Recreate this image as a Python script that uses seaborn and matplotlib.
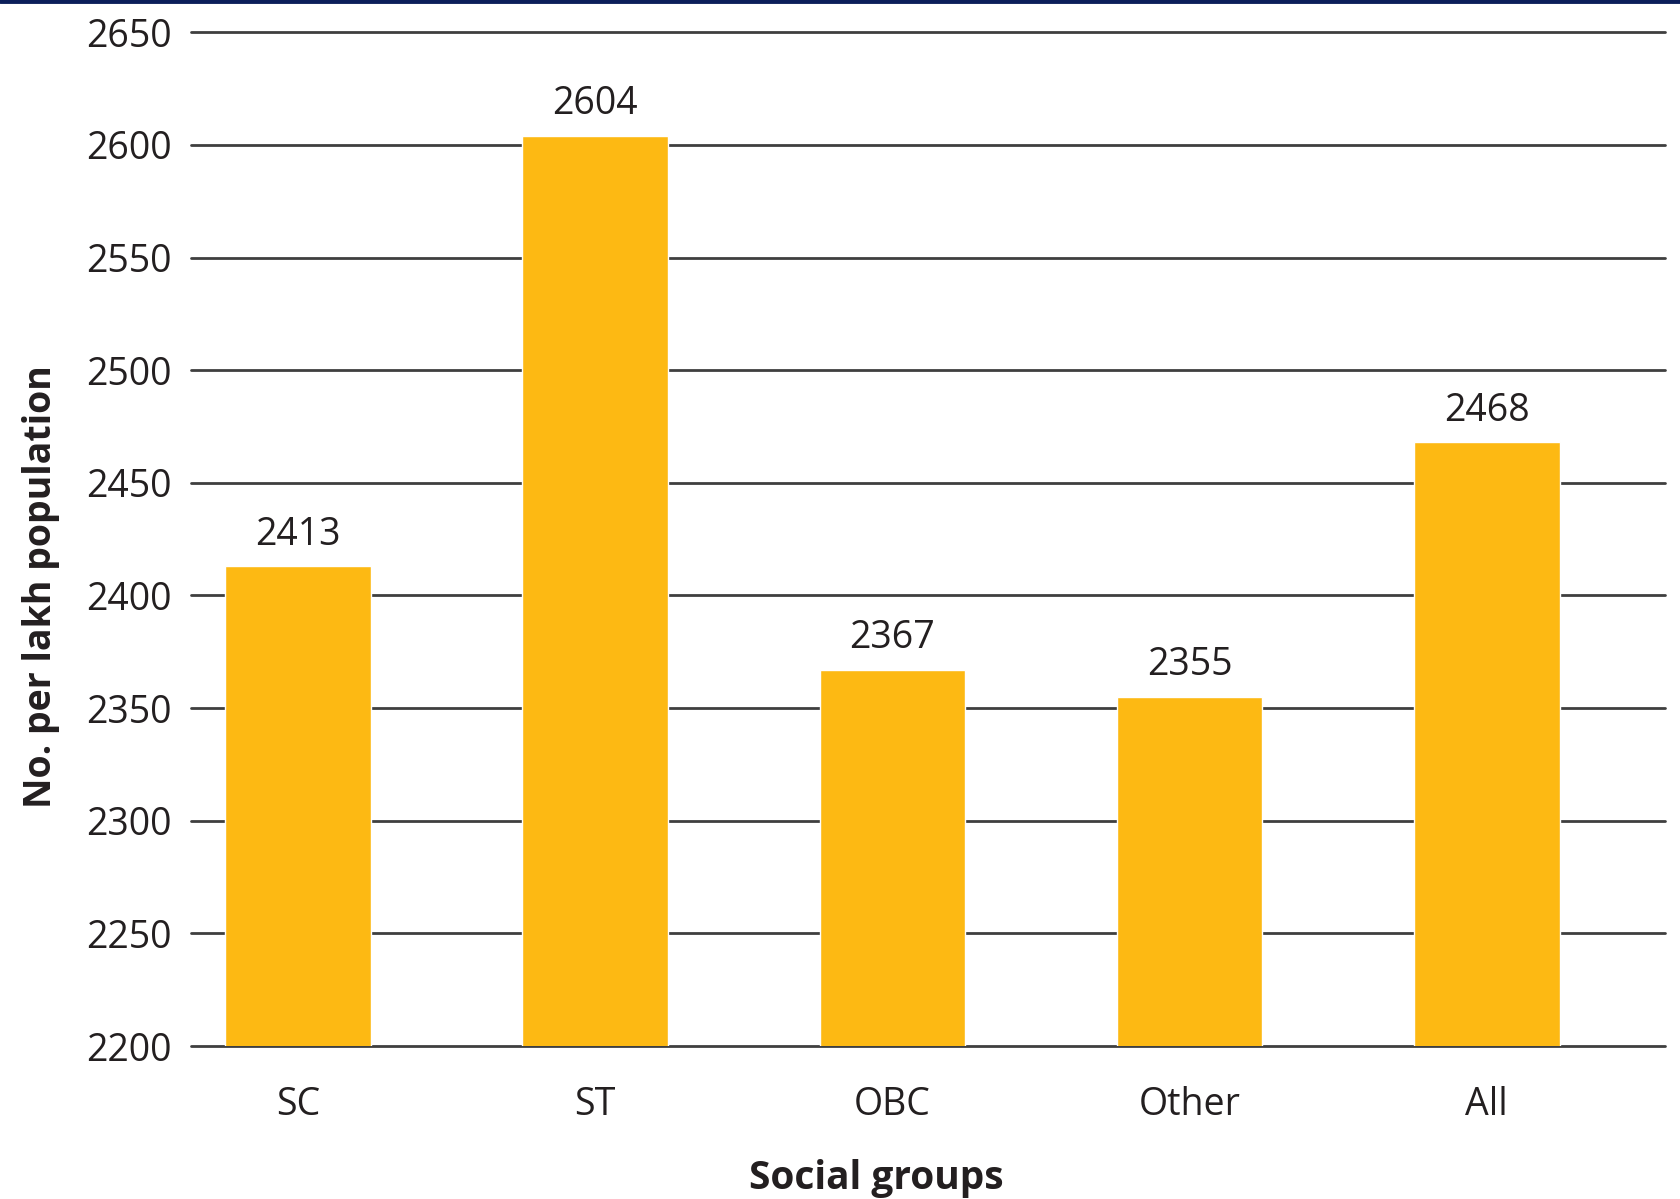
import matplotlib
matplotlib.use("Agg")
import matplotlib.pyplot as plt
import seaborn as sns
import pandas as pd

groups = ["SC", "ST", "OBC", "Other", "All"]
per_lakh = [2413, 2604, 2367, 2355, 2468]
y_ticks = [2200, 2250, 2300, 2350, 2400, 2450, 2500, 2550, 2600, 2650]

BAR = "#FDB913"
GRID = "#3f3f3f"
TEXT = "#231f20"

sns.set_theme(style="white")
plt.rcParams["font.family"] = ["Open Sans", "DejaVu Sans"]

df = pd.DataFrame({"group": groups, "value": per_lakh})

fig = plt.figure(figsize=(16.8, 11.99), dpi=100)
ax = fig.add_axes([0.1137, 0.1276, 0.8774, 0.8455])

sns.barplot(data=df, x="group", y="value", color=BAR, saturation=1,
            width=0.49, ax=ax, zorder=3)

ax.set_ylim(2200, 2650)
ax.set_xlim(-0.36, 4.60)
ax.set_yticks(y_ticks)
ax.set_yticklabels([str(t) for t in y_ticks])

ax.yaxis.grid(True, color=GRID, linewidth=2.0, zorder=1)
ax.set_axisbelow(True)
for gl in ax.get_ygridlines():
    gl.set_clip_on(False)

for s in ax.spines.values():
    s.set_visible(False)

ax.tick_params(axis="y", length=0, pad=14, labelsize=27, labelcolor=TEXT)
ax.tick_params(axis="x", length=0, pad=29, labelsize=27, labelcolor=TEXT)

for i, v in enumerate(per_lakh):
    ax.annotate(str(v), (i, v), xytext=(0, 9), textcoords="offset points",
                ha="center", va="bottom", fontsize=27, color=TEXT)

ax.set_xlabel("Social groups", fontsize=28, fontweight="bold", color=TEXT)
ax.set_ylabel("No. per lakh population", fontsize=27, fontweight="bold",
              color=TEXT)
ax.xaxis.set_label_coords(0.465, -0.111)
ax.yaxis.set_label_coords(-0.089, 0.453)

# thin navy rule along the top edge
fig.add_artist(plt.Line2D([0, 1], [0.9992, 0.9992], transform=fig.transFigure,
                          color="#0b1f5a", linewidth=3.5))

fig.savefig("out.png", dpi=100, facecolor="white")
